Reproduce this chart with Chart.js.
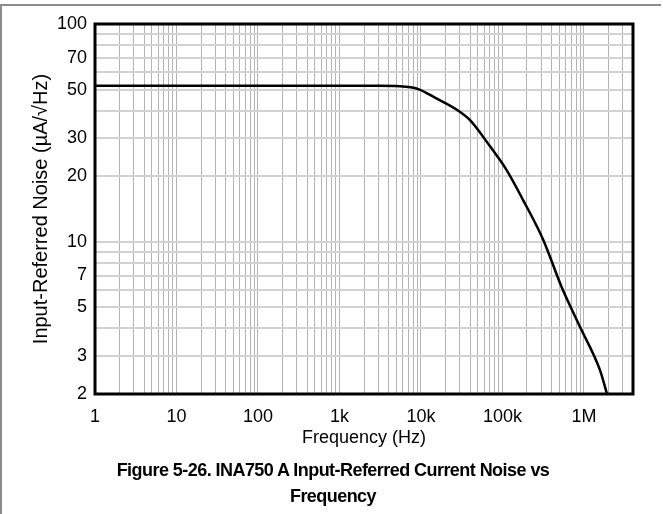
<!DOCTYPE html>
<html>
<head>
<meta charset="utf-8">
<script src="https://cdn.jsdelivr.net/npm/chart.js@4/dist/chart.umd.min.js"></script>
<style>
  html, body { margin: 0; padding: 0; background: #fff; }
  #wrap { position: relative; width: 663px; height: 514px; overflow: hidden; }
  #frame { position: absolute; left: 0; top: 4px; width: 661px; height: 510px;
           border-top: 2px solid #8c8c8c; border-left: 2px solid #8c8c8c; box-sizing: border-box; }
  #caption { position: absolute; left: 0; top: 457px; width: 666px; text-align: center;
             font: bold 18px "Liberation Sans", Arial, sans-serif; line-height: 26px;
             letter-spacing: -0.55px; color: #000; }
  canvas { position: absolute; left: 0; top: 0; }
</style>
</head>
<body>
<div id="wrap">
  <div id="frame"></div>
  <canvas id="noiseChart" width="663" height="514"></canvas>
  <div id="caption">Figure 5-26. INA750 A Input-Referred Current Noise vs<br>Frequency</div>
</div>
<script>
// values
const freqHz = [1, 10, 100, 1000, 3000, 5500, 7500, 9600, 15000, 27000, 40000, 70000, 112000, 180000, 317000, 532000, 894000, 1570000, 1920000];
const noise = [52, 52, 52, 52, 52, 51.8, 51.2, 50, 45.8, 40.6, 36.2, 27.5, 21.4, 15.5, 10.2, 6.2, 4.07, 2.58, 2.0];

const xTickValues = [1, 10, 100, 1000, 10000, 100000, 1000000];
const xTickLabels = ["1", "10", "100", "1k", "10k", "100k", "1M"];
const yTickValues = [2, 3, 5, 7, 10, 20, 30, 50, 70, 100];
const yTickLabels = ["2", "3", "5", "7", "10", "20", "30", "50", "70", "100"];

const xMin = 1, xMax = 4000000;
const yMin = 2, yMax = 100;

// 1..9 per decade grid lines
function decadeGrid(min, max) {
  const out = [];
  for (let k = Math.floor(Math.log10(min)); k <= Math.ceil(Math.log10(max)); k++) {
    for (let d = 1; d <= 9; d++) {
      const v = d * Math.pow(10, k);
      if (v >= min && v <= max) out.push({ value: v });
    }
  }
  return out;
}

const font = { family: "'Liberation Sans', Arial, sans-serif", size: 18 };

const boxBorder = {
  id: "boxBorder",
  afterDraw(chart) {
    const { ctx, chartArea: a } = chart;
    ctx.save();
    ctx.strokeStyle = "#000";
    ctx.lineWidth = 3;
    ctx.strokeRect(a.left, a.top, a.right - a.left, a.bottom - a.top);
    ctx.restore();
  }
};

new Chart(document.getElementById("noiseChart"), {
  type: "line",
  data: {
    datasets: [{
      data: freqHz.map((f, i) => ({ x: f, y: noise[i] })),
      borderColor: "#000",
      borderWidth: 2.5,
      pointRadius: 0,
      cubicInterpolationMode: "monotone",
      fill: false
    }]
  },
  options: {
    responsive: false,
    animation: false,
    devicePixelRatio: 1,
    layout: { padding: { top: 24, right: 30, bottom: 65, left: 0 } },
    plugins: { legend: { display: false }, tooltip: { enabled: false } },
    scales: {
      x: {
        type: "logarithmic",
        min: xMin,
        max: xMax,
        afterBuildTicks: s => { s.ticks = decadeGrid(xMin, xMax); },
        afterFit: s => { s.height = 55; },
        grid: { color: "#b4b4b4", lineWidth: 1, drawTicks: false },
        border: { display: false },
        ticks: {
          autoSkip: false,
          maxRotation: 0,
          padding: 12,
          color: "#000",
          font: font,
          callback: v => {
            const i = xTickValues.indexOf(v);
            return i >= 0 ? xTickLabels[i] : "";
          }
        },
        title: { display: true, text: "Frequency (Hz)", color: "#000", font: font, padding: { top: 0, bottom: 0 } }
      },
      y: {
        type: "logarithmic",
        min: yMin,
        max: yMax,
        afterBuildTicks: s => { s.ticks = decadeGrid(yMin, yMax); },
        afterFit: s => { s.width = 95; },
        grid: { color: "#d2d2d2", lineWidth: 2, drawTicks: false },
        border: { display: false },
        ticks: {
          autoSkip: false,
          padding: 8,
          color: "#000",
          font: font,
          callback: v => {
            const i = yTickValues.indexOf(v);
            return i >= 0 ? yTickLabels[i] : "";
          }
        },
        title: {
          display: true,
          text: "Input-Referred Noise (µA/√Hz)",
          color: "#000",
          font: { family: font.family, size: 20 },
          padding: { top: 29, bottom: 0 }
        }
      }
    }
  },
  plugins: [boxBorder]
});
</script>
</body>
</html>
